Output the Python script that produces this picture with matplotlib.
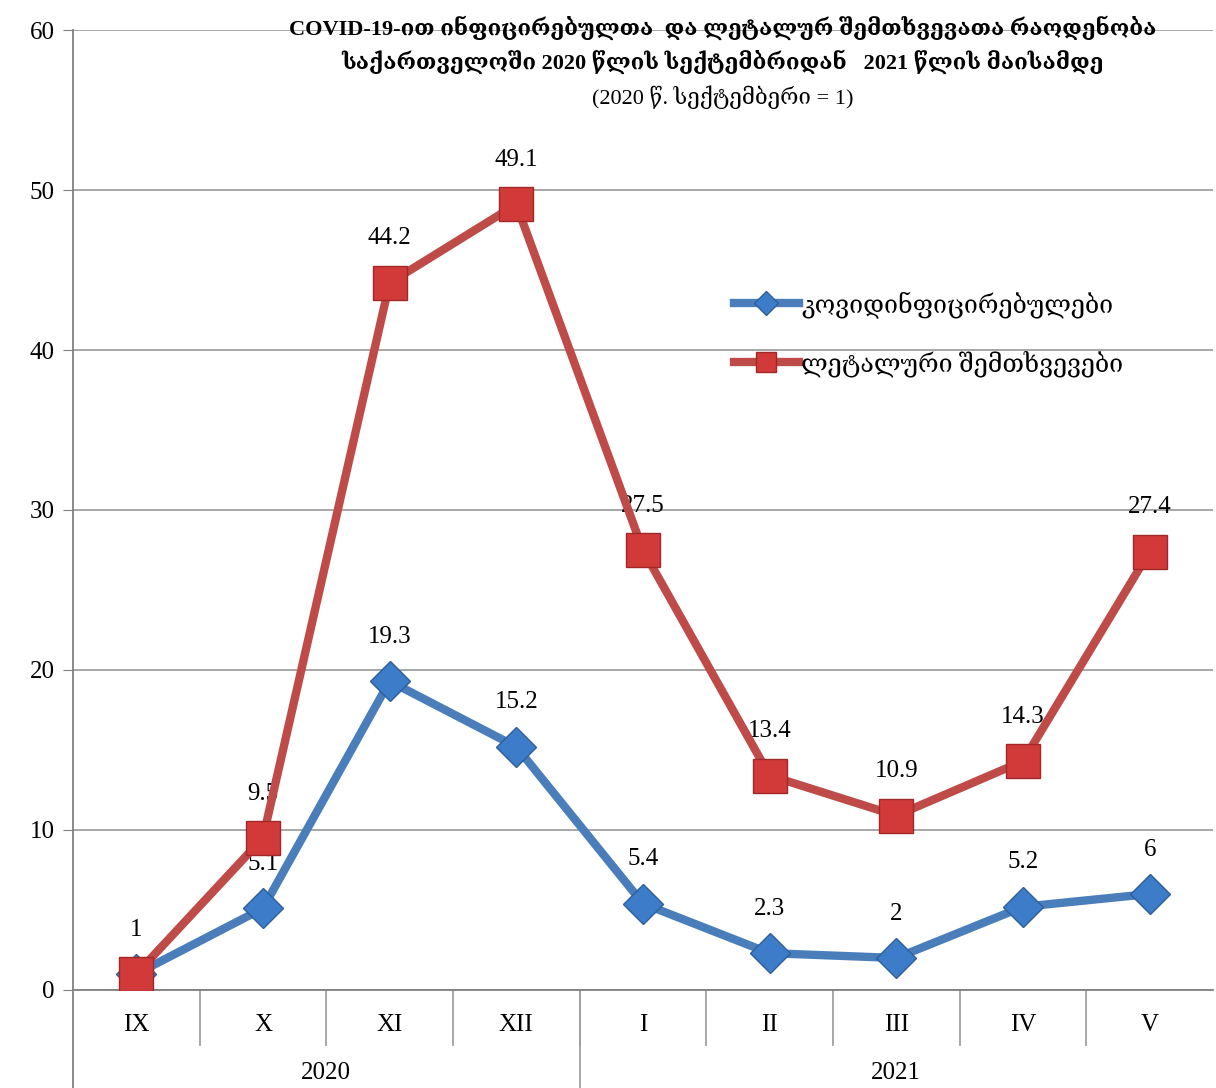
import numpy as np
import matplotlib
matplotlib.use("Agg")
from matplotlib import pyplot as plt

# data
months = ["IX", "X", "XI", "XII", "I", "II", "III", "IV", "V"]
years = ["2020", "2021"]
year_sizes = [4, 5]
infected = [1, 5.1, 19.3, 15.2, 5.4, 2.3, 2.0, 5.2, 6.0]
lethal = [1, 9.5, 44.2, 49.1, 27.5, 13.4, 10.9, 14.3, 27.4]
infected_labels = ["", "5.1", "19.3", "15.2", "5.4", "2.3", "2", "5.2", "6"]
lethal_labels = ["1", "9.5", "44.2", "49.1", "27.5", "13.4", "10.9", "14.3", "27.4"]
series_names = ["კოვიდინფიცირებულები", "ლეტალური შემთხვევები"]
title_lines = ["COVID-19-ით ინფიცირებულთა  და ლეტალურ შემთხვევათა რაოდენობა",
               "საქართველოში 2020 წლის სექტემბრიდან   2021 წლის მაისამდე",
               "(2020 წ. სექტემბერი = 1)"]

fam = ["Liberation Serif", "DejaVu Serif"]
plt.rcParams["font.family"] = fam

fig = plt.figure(figsize=(12.16, 10.88), dpi=100)
ax = fig.add_axes([0.060, 0.0901, 0.9375, 0.8823])

x = np.arange(len(months))
blue = "#4a7ebb"
red = "#be4b48"

ax.plot(x, infected, color=blue, lw=6, marker="D", ms=20,
        mfc="#3d7cc9", mec="#2f5f9a", mew=1, zorder=3, label=series_names[0])
ax.plot(x, lethal, color=red, lw=6, marker="s", ms=24,
        mfc="#d23a3a", mec="#a02828", mew=1, zorder=4, label=series_names[1])

for i in range(len(x)):
    if infected_labels[i]:
        ax.annotate(infected_labels[i], (x[i], infected[i]), xytext=(0, 24),
                    textcoords="offset points", ha="center", va="bottom", fontsize=18)
    ax.annotate(lethal_labels[i], (x[i], lethal[i]), xytext=(0, 24),
                textcoords="offset points", ha="center", va="bottom", fontsize=18)

ax.set_xlim(-0.5, len(months) - 0.5)
ax.set_ylim(0, 60)
ax.set_yticks(np.arange(0, 61, 10))
ax.tick_params(axis="y", labelsize=18, length=7, color="#808080", pad=6)
ax.set_xticks([])
ax.grid(axis="y", color="#a0a0a0", lw=1.3)
ax.set_axisbelow(True)
for s in ["top", "right"]:
    ax.spines[s].set_visible(False)
ax.spines["left"].set_color("#808080")
ax.spines["bottom"].set_color("#808080")
ax.spines["left"].set_linewidth(1.3)
ax.spines["bottom"].set_linewidth(1.3)

# category axis below
trans = ax.get_xaxis_transform()
for i, m in enumerate(months):
    ax.text(i, -0.037, m, transform=trans, ha="center", va="center", fontsize=18)
    if i > 0:
        ax.plot([i - 0.5, i - 0.5], [0, -0.057], transform=trans, color="#a0a0a0",
                lw=1.3, clip_on=False)
start = 0
for y, n in zip(years, year_sizes):
    ax.text(start + n / 2 - 0.5, -0.087, y, transform=trans, ha="center",
            va="center", fontsize=18)
    start += n
ax.plot([year_sizes[0] - 0.5] * 2, [0, -0.11], transform=trans, color="#a0a0a0",
        lw=1.3, clip_on=False)
ax.plot([-0.5, -0.5], [0, -0.11], transform=trans, color="#808080",
        lw=1.3, clip_on=False)

# title
ax.text(0.57, 1.002, title_lines[0], transform=ax.transAxes, ha="center", va="center",
        fontsize=16, fontweight="semibold")
ax.text(0.57, 0.967, title_lines[1], transform=ax.transAxes, ha="center", va="center",
        fontsize=16, fontweight="semibold")
ax.text(0.57, 0.930, title_lines[2], transform=ax.transAxes, ha="center", va="center",
        fontsize=16)

leg = ax.legend(loc="upper left", bbox_to_anchor=(0.56, 0.752), frameon=False,
                fontsize=18, handlelength=2.6, handletextpad=0.1, labelspacing=1.3,
                markerscale=0.6)

fig.savefig("out.png", dpi=100)
